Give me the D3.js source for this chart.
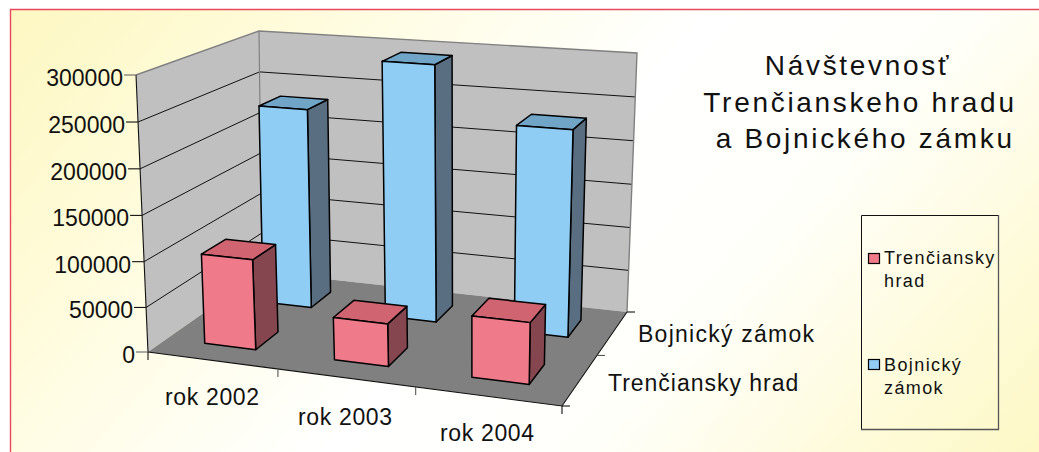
<!DOCTYPE html>
<html><head><meta charset="utf-8">
<script src="https://cdn.jsdelivr.net/npm/d3@7"></script>
<style>html,body{margin:0;padding:0;background:#fff}svg{display:block}text{font-family:"Liberation Sans",Arial,sans-serif;fill:#111}</style>
</head><body><div id="c"></div>
<script>
const categories=["rok 2002","rok 2003","rok 2004"];
const seriesNames=["Trenčiansky hrad","Bojnický zámok"];
const trencin=[100000,47000,66000];
const bojnice=[232000,293000,232000];
const yTicks=[0,50000,100000,150000,200000,250000,300000];
const titleLines=["Návštevnosť","Trenčianskeho hradu"," a Bojnického zámku"];
const legendLines=[["Trenčiansky","hrad"],["Bojnický","zámok"]];
const seriesValues=[trencin,bojnice];
const palette=[{front:"#ef7a8a",side:"#864650",top:"#d06470"},{front:"#8fcdf5",side:"#5a6e82",top:"#70a5c8"}];

const W=1039,H=452;
const svg=d3.select("#c").append("svg").attr("width",W).attr("height",H);
const defs=svg.append("defs");
const g=defs.append("linearGradient").attr("id","bg").attr("gradientUnits","userSpaceOnUse")
 .attr("x1",110).attr("y1",-130).attr("x2",930).attr("y2",590);
[[0,"#fdf7c0"],[.1,"#fef9cc"],[.3,"#fffde6"],[.5,"#ffffff"],[.68,"#fffffa"],[.85,"#fefbdc"],[1,"#fdf8c4"]].forEach(s=>g.append("stop").attr("offset",s[0]).attr("stop-color",s[1]));
svg.append("rect").attr("x",10).attr("y",9).attr("width",W).attr("height",H).attr("fill","url(#bg)");
svg.append("path").attr("d",`M10.5,${H}V9.5H${W}`).attr("fill","none").attr("stroke","#e8485c").attr("stroke-width",1.4);

// square -> quad homography
function homography(p00,p10,p11,p01){
  const [x0,y0]=p00,[x1,y1]=p10,[x2,y2]=p11,[x3,y3]=p01;
  const dx1=x1-x2,dx2=x3-x2,sx=x0-x1+x2-x3,dy1=y1-y2,dy2=y3-y2,sy=y0-y1+y2-y3;
  const d=dx1*dy2-dx2*dy1;
  const a13=(sx*dy2-dx2*sy)/d,a23=(dx1*sy-sx*dy1)/d;
  const a=x1-x0+a13*x1,b=x3-x0+a23*x3,c=x0,e=y1-y0+a13*y1,f=y3-y0+a23*y3,h=y0;
  return (u,v)=>{const w=a13*u+a23*v+1;return [(a*u+b*v+c)/w,(e*u+f*v+h)/w];};
}
const floorH=homography([148,352],[562,406],[627,312],[262,272]);
const topH=homography([136,75],[570,108],[637,53],[259,31]);
const yS=d3.scalePow().exponent(1.02).domain([0,300000]).range([0,1]);
const xS=d3.scaleBand().domain(categories).range([0,1]).paddingInner(.6).paddingOuter(.3);
const zS=d3.scaleBand().domain(seriesNames).range([0,1]).paddingInner(.6).paddingOuter(.3);
const seriesShift=[0,.006];
const xTickS=d3.scalePoint().domain(d3.range(categories.length+1)).range([0,1]);
const zTickS=d3.scalePoint().domain(d3.range(seriesNames.length+1)).range([0,1]);
function P(u,w,val){const a=floorH(u,w),b=topH(u,w),t=yS(val);return [a[0]+(b[0]-a[0])*t,a[1]+(b[1]-a[1])*t];}
const line=d3.line();
const closed=pts=>line(pts)+"Z";
const root=svg.append("g");

// walls and floor
root.append("path").attr("d",closed([P(0,0,0),P(0,1,0),P(0,1,3e5),P(0,0,3e5)])).attr("fill","#c0c0c0");
root.append("path").attr("d",closed([P(0,1,0),P(1,1,0),P(1,1,3e5),P(0,1,3e5)])).attr("fill","#c0c0c0");
root.append("path").attr("d",closed([P(0,0,0),P(1,0,0),P(1,1,0),P(0,1,0)])).attr("fill","#808080");
// gridlines
yTicks.slice(1,-1).forEach(v=>{
  root.append("path").attr("d",line([P(0,0,v),P(0,1,v),P(1,1,v)])).attr("fill","none").attr("stroke","#111").attr("stroke-width",1);
});
// gray wall edges
root.append("path").attr("d",line([P(0,0,3e5),P(0,1,3e5),P(1,1,3e5),P(1,1,0)])).attr("fill","none").attr("stroke","#808080").attr("stroke-width",1.4);
root.append("path").attr("d",line([P(0,1,0),P(0,1,3e5)])).attr("fill","none").attr("stroke","#808080").attr("stroke-width",1.2);
// axes lines
const axisG=root.append("g").attr("fill","none").attr("stroke","#111").attr("stroke-width",1.1);
axisG.append("path").attr("d",line([P(0,0,0),P(0,0,3e5)]));
axisG.append("path").attr("d",line([P(0,0,0),P(1,0,0),P(1,1,0)]));
yTicks.forEach(v=>{const p=P(0,0,v);
  axisG.append("path").attr("d",line([[p[0]-12,p[1]],p])).attr("stroke",v===0||v===3e5?"#666":"#111");
  root.append("text").attr("x",p[0]-13).attr("y",p[1]+11).attr("text-anchor","end").attr("font-size",23).text(d3.format("d")(v));
});
xTickS.domain().forEach(i=>{const p=P(xTickS(i),0,0);axisG.append("path").attr("d",line([p,[p[0],p[1]+8]])).attr("stroke",i===0||i===3?"#111":"#555");});
zTickS.domain().forEach(i=>{const p=P(1,zTickS(i),0);axisG.append("path").attr("d",line([p,[p[0]+8,p[1]]])).attr("stroke",i===1?"#555":"#111");});

// bars back to front
[1,0].forEach(si=>{
  const s=seriesNames[si],col=palette[si];
  categories.forEach((c,ci)=>{
    const v=seriesValues[si][ci];
    const u0=xS(c)+seriesShift[si],u1=u0+xS.bandwidth(),w0=zS(s),w1=w0+zS.bandwidth();
    const b=root.append("g").attr("stroke","#000").attr("stroke-width",1.5).attr("stroke-linejoin","round");
    b.append("path").attr("d",closed([P(u1,w0,0),P(u1,w1,0),P(u1,w1,v),P(u1,w0,v)])).attr("fill",col.side);
    b.append("path").attr("d",closed([P(u0,w0,v),P(u1,w0,v),P(u1,w1,v),P(u0,w1,v)])).attr("fill",col.top);
    b.append("path").attr("d",closed([P(u0,w0,0),P(u1,w0,0),P(u1,w0,v),P(u0,w0,v)])).attr("fill",col.front);
  });
});

// category labels
const catPos=[[165,405],[298,425],[440,441]];
categories.forEach((c,i)=>root.append("text").attr("x",catPos[i][0]).attr("y",catPos[i][1]).attr("font-size",23).attr("letter-spacing",.65).text(c));
const serPos=[[608,391],[638,342]];
seriesNames.forEach((s,i)=>root.append("text").attr("x",serPos[i][0]).attr("y",serPos[i][1]).attr("font-size",23).attr("letter-spacing",i?1.25:.98).text(s));

// title
const tY=[75,112,148],tX=[858,860,860];
titleLines.forEach((t,i)=>root.append("text").attr("x",tX[i]).attr("y",tY[i]).attr("text-anchor","middle").style("white-space","pre").attr("font-size",28).attr("letter-spacing",2.7).text(t));

// legend
root.append("path").attr("d","M861.5,429.5V215.5H998").attr("fill","none").attr("stroke","#111");
root.append("path").attr("d","M998.5,215V429.5H861").attr("fill","none").attr("stroke","#555").attr("stroke-width",1.3);
const legY=[[264,287],[371,394]],swY=[253,359];
seriesNames.forEach((s,i)=>{
  root.append("rect").attr("x",868.5).attr("y",swY[i]+.5).attr("width",11).attr("height",10).attr("fill",palette[i].front).attr("stroke","#000").attr("stroke-width",1.2);
  legendLines[i].forEach((t,j)=>root.append("text").attr("x",884).attr("y",legY[i][j]).attr("font-size",18).attr("letter-spacing",1.4).text(t));
});
</script></body></html>
